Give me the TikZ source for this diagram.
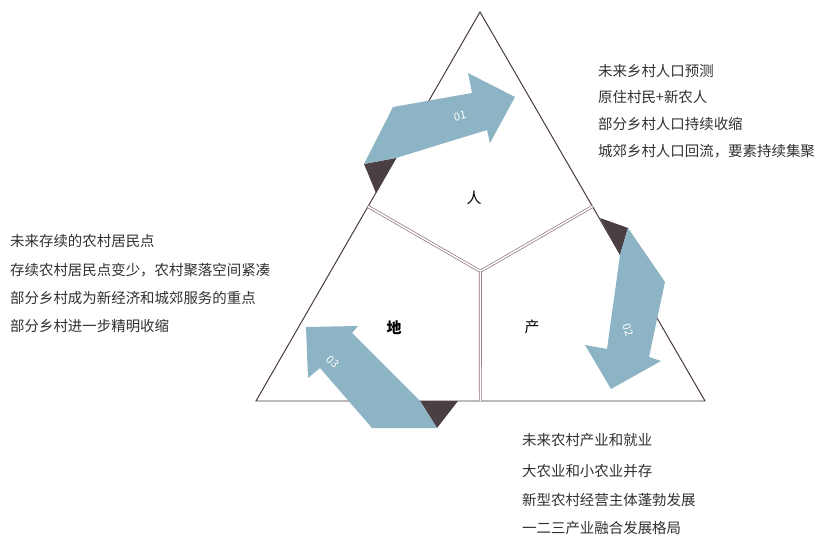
\documentclass[tikz,border=0pt]{standalone}
\usepackage{fontspec}
\setmainfont{Noto Sans CJK SC}
\usetikzlibrary{calc}
\definecolor{edgecol}{HTML}{4A383B}
\definecolor{ycol}{HTML}{8E7276}
\definecolor{arrowcol}{HTML}{8DB4C4}
\definecolor{foldcol}{HTML}{4A3F42}
\definecolor{txtcol}{HTML}{303030}
\tikzset{
  txt/.style={anchor=west,inner sep=0pt,text=txtcol,font=\fontsize{14.5}{15}\selectfont},
  part/.style={inner sep=0pt,text=black,font=\fontsize{15}{15}\selectfont},
  num/.style={inner sep=0pt,text=white,font=\fontsize{11}{11}\selectfont},
  arrowbody/.style={fill=arrowcol,draw=none},
  fold/.style={fill=foldcol,draw=none}
}
\begin{document}
\begin{tikzpicture}[x=1bp,y=-1bp]
    \useasboundingbox (0,0) rectangle (835,537);

    \coordinate (T) at (480,12);
    \coordinate (BL) at (256,401);
    \coordinate (BR) at (705,401);
    \coordinate (C) at (480.3,271.3);
    \coordinate (ML) at ($(T)!0.5!(BL)$);
    \coordinate (MR) at ($(T)!0.5!(BR)$);
    \coordinate (MB) at ($(BL)!0.5!(BR)$);

    \draw[edgecol,line width=1pt,line join=miter] (T) -- (BL) -- (BR) -- cycle;
    \draw[ycol,line width=0.7pt,double=white,double distance=1.6pt] (ML) -- (C) -- (MR);
    \draw[ycol,line width=0.7pt,double=white,double distance=1.6pt] (C) -- (MB);

    % 01
    \fill[fold] (364,164) -- (396,158) -- (376,193) -- cycle;
    \fill[arrowbody] (364,164) -- (393,107) -- (472,93) -- (468,73) -- (515,97)
        -- (490,143) -- (487,130) -- (396,158) -- cycle;
    % 02
    \fill[fold] (600,218) -- (628,228) -- (620,255) -- cycle;
    \fill[arrowbody] (628,228) -- (665,282) -- (649,357) -- (661,361) -- (611,389)
        -- (585,345) -- (607,349) -- (620,255) -- cycle;
    % 03
    \fill[fold] (420,401) -- (458,401) -- (437,428) -- cycle;
    \fill[arrowbody] (437,428) -- (420,401) -- (352,333) -- (358,326) -- (306,327)
        -- (308,378) -- (320,368) -- (372,428) -- cycle;

    \node[num,rotate=12] (N1) at (460,116) {01};
    \node[num,rotate=-70] (N2) at (628,330) {02};
    \node[num,rotate=-45] (N3) at (333,362) {03};

    \node[part] (Ren) at (474,198) {人};
    \node[part,font=\fontsize{15}{15}\selectfont\bfseries] (Di) at (394,328) {地};
    \node[part] (Chan) at (532,327) {产};

    \node[txt] (P1) at (598,71) {未来乡村人口预测};
    \node[txt] (P2) at (598,97) {原住村民+新农人};
    \node[txt] (P3) at (598,124) {部分乡村人口持续收缩};
    \node[txt] (P4) at (598,151) {城郊乡村人口回流，要素持续集聚};

    \node[txt] (L1) at (10,241) {未来存续的农村居民点};
    \node[txt] (L2) at (10,270) {存续农村居民点变少，农村聚落空间紧凑};
    \node[txt] (L3) at (10,298) {部分乡村成为新经济和城郊服务的重点};
    \node[txt] (L4) at (10,326) {部分乡村进一步精明收缩};

    \node[txt] (I1) at (522,440) {未来农村产业和就业};
    \node[txt] (I2) at (522,471) {大农业和小农业并存};
    \node[txt] (I3) at (522,500) {新型农村经营主体蓬勃发展};
    \node[txt] (I4) at (522,528) {一二三产业融合发展格局};
\end{tikzpicture}
\end{document}
